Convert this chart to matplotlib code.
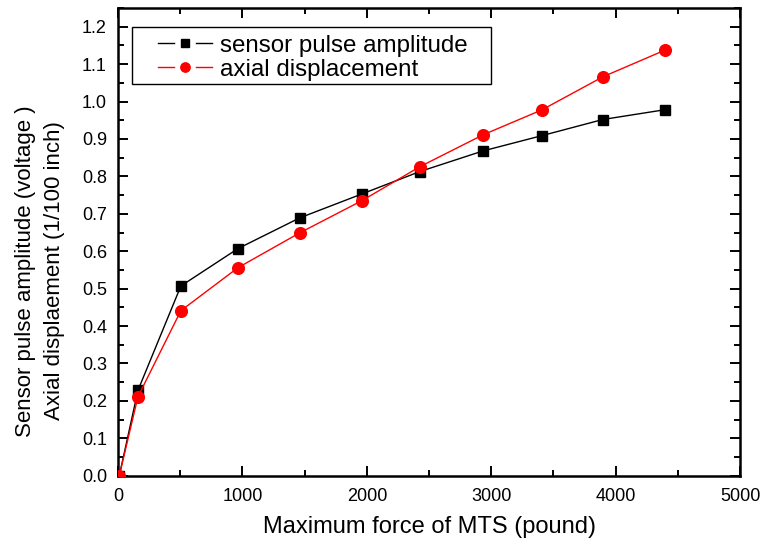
import matplotlib
matplotlib.use("Agg")
import matplotlib.pyplot as plt
from matplotlib.ticker import MultipleLocator
from matplotlib.patches import Rectangle
from matplotlib.lines import Line2D
from matplotlib.legend_handler import HandlerLine2D

plt.rcParams['font.family'] = ['Liberation Sans', 'DejaVu Sans']

# Maximum force of MTS (pound)
force = [10, 160, 505, 964, 1460, 1960, 2427, 2934, 3409, 3897, 4394]
# Sensor pulse amplitude (voltage)
pulse_amplitude = [0.0, 0.228, 0.507, 0.607, 0.689, 0.753, 0.813, 0.868, 0.909, 0.952, 0.978]
# Axial displacement (1/100 inch)
axial_displacement = [0.0, 0.211, 0.441, 0.556, 0.649, 0.735, 0.826, 0.911, 0.978, 1.066, 1.137]

x_ticks = [0, 1000, 2000, 3000, 4000, 5000]
y_ticks = [0.0, 0.1, 0.2, 0.3, 0.4, 0.5, 0.6, 0.7, 0.8, 0.9, 1.0, 1.1, 1.2]

fig = plt.figure(figsize=(7.64, 5.48), dpi=100)
ax = fig.add_axes([0.1545, 0.1319, 0.8141, 0.8535])

ax.plot(force, pulse_amplitude, color='black', lw=1.0, marker='s', ms=7.4,
        mec='black', mfc='black', label='sensor pulse amplitude', zorder=3)
ax.plot(force, axial_displacement, color='#ff0000', lw=1.0, marker='o', ms=8.4,
        mec='#ff0000', mfc='#ff0000', label='axial displacement', zorder=4)

ax.set_xlim(0, 5000)
ax.set_ylim(0, 1.25)
ax.set_xticks(x_ticks)
ax.set_yticks(y_ticks)
ax.set_yticklabels([f"{v:.1f}" for v in y_ticks])
ax.xaxis.set_minor_locator(MultipleLocator(500))
ax.yaxis.set_minor_locator(MultipleLocator(0.05))

ax.tick_params(which='both', direction='in', top=True, right=True,
               labeltop=False, labelright=False, width=1.4, labelsize=13)
ax.tick_params(which='major', length=7.5)
ax.tick_params(axis='x', which='major', pad=9)
ax.tick_params(axis='y', which='major', pad=8)
ax.tick_params(which='minor', length=4)
for side in ax.spines.values():
    side.set_linewidth(1.8)

ax.set_xlabel('Maximum force of MTS (pound)', fontsize=17, labelpad=8)
fig.text(40 / 764, 1 - 271 / 548,
         'Sensor pulse amplitude (voltage )\nAxial displaement (1/100 inch)',
         rotation=90, ha='center', va='center', ma='center',
         fontsize=16, linespacing=1.55)


class GapLineHandler(HandlerLine2D):
    """Legend symbol: a line broken on both sides of the marker."""

    def create_artists(self, legend, orig_handle, xdescent, ydescent,
                       width, height, fontsize, trans):
        x0 = -xdescent
        x1 = x0 + width
        xm = 0.5 * (x0 + x1)
        y = (height - ydescent) / 2.0
        seg = 0.29 * width
        artists = []
        for xa, xb in ((x0, x0 + seg), (x1 - seg, x1)):
            part = Line2D([xa, xb], [y, y])
            self.update_prop(part, orig_handle, legend)
            part.set_marker('None')
            part.set_transform(trans)
            artists.append(part)
        mark = Line2D([xm], [y])
        self.update_prop(mark, orig_handle, legend)
        mark.set_linestyle('None')
        mark.set_markersize(orig_handle.get_markersize() * legend.markerscale)
        mark.set_transform(trans)
        artists.append(mark)
        return artists


# legend entries without their own frame; the box is drawn separately
leg = ax.legend(loc='center left', bbox_to_anchor=(0.0643, 0.8933), fontsize=17.4,
                frameon=False, numpoints=1, markerscale=0.8,
                handlelength=2.23, borderpad=0, labelspacing=0.08,
                handletextpad=0.33, borderaxespad=0,
                handler_map={Line2D: GapLineHandler()})
ax.add_patch(Rectangle((0.0225, 0.8375), 0.5772, 0.1219, transform=ax.transAxes,
                       fill=False, edgecolor='black', lw=1.0, zorder=5))

fig.savefig('out.png', dpi=100)
